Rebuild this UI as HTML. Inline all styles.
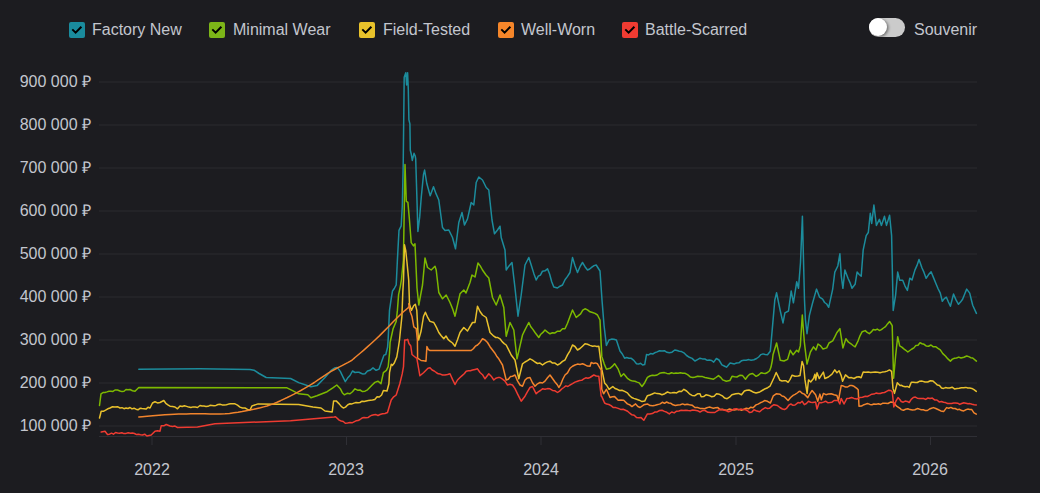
<!DOCTYPE html>
<html><head><meta charset="utf-8">
<style>
html,body{margin:0;padding:0;background:#1c1c20;width:1040px;height:493px;overflow:hidden}
body{font-family:"Liberation Sans",sans-serif;font-size:16px;color:#c3c6ce;position:relative}
.cb{position:absolute;top:22px;width:16px;height:16px;border-radius:2px}
.cb svg{position:absolute;left:0;top:0}
.lt{position:absolute;top:20px;line-height:20px;white-space:nowrap}
.yl{position:absolute;right:949px;line-height:16px;white-space:nowrap;text-align:right}
.xl{position:absolute;top:461px;line-height:18px;width:60px;text-align:center}
</style></head><body>
<!--LEGEND-->
<div class="cb" style="left:69px;background:#1a8b9d"><svg width="16" height="16"><path d="M3.3 7.4 L6.6 10.6 L12.4 4.7" stroke="#000" stroke-width="2" fill="none"/></svg></div>
<div class="lt" style="left:92px">Factory New</div>
<div class="cb" style="left:209px;background:#7cb518"><svg width="16" height="16"><path d="M3.3 7.4 L6.6 10.6 L12.4 4.7" stroke="#000" stroke-width="2" fill="none"/></svg></div>
<div class="lt" style="left:233px">Minimal Wear</div>
<div class="cb" style="left:359px;background:#e8c22b"><svg width="16" height="16"><path d="M3.3 7.4 L6.6 10.6 L12.4 4.7" stroke="#000" stroke-width="2" fill="none"/></svg></div>
<div class="lt" style="left:383px">Field-Tested</div>
<div class="cb" style="left:498px;background:#f5862a"><svg width="16" height="16"><path d="M3.3 7.4 L6.6 10.6 L12.4 4.7" stroke="#000" stroke-width="2" fill="none"/></svg></div>
<div class="lt" style="left:521px">Well-Worn</div>
<div class="cb" style="left:622px;background:#ef3b32"><svg width="16" height="16"><path d="M3.3 7.4 L6.6 10.6 L12.4 4.7" stroke="#000" stroke-width="2" fill="none"/></svg></div>
<div class="lt" style="left:645px">Battle-Scarred</div>
<div style="position:absolute;left:869px;top:17.5px;width:36px;height:19px;border-radius:9.5px;background:#cbcbcb"></div>
<div style="position:absolute;left:869px;top:18.2px;width:18px;height:18px;border-radius:50%;background:#fff;box-shadow:1.5px 1px 3px rgba(0,0,0,0.45)"></div>
<div class="lt" style="left:914px">Souvenir</div>
<!--CHART-->
<svg style="position:absolute;left:0;top:0" width="1040" height="493">
<g stroke="#2a2a2f" stroke-width="1">
<line x1="99" x2="977" y1="82" y2="82"/>
<line x1="99" x2="977" y1="125" y2="125"/>
<line x1="99" x2="977" y1="168" y2="168"/>
<line x1="99" x2="977" y1="211" y2="211"/>
<line x1="99" x2="977" y1="254" y2="254"/>
<line x1="99" x2="977" y1="297" y2="297"/>
<line x1="99" x2="977" y1="340" y2="340"/>
<line x1="99" x2="977" y1="383" y2="383"/>
<line x1="99" x2="977" y1="426" y2="426"/>
</g>
<g stroke="#2f2f35" stroke-width="1">
<line x1="99" x2="977" y1="436.5" y2="436.5"/>
<line x1="152" x2="152" y1="437" y2="445"/>
<line x1="346.5" x2="346.5" y1="437" y2="445"/>
<line x1="541" x2="541" y1="437" y2="445"/>
<line x1="736" x2="736" y1="437" y2="445"/>
<line x1="930.5" x2="930.5" y1="437" y2="445"/>
</g>
<path d="M138.8 369.3 L200.0 368.8 L250.0 369.4 L254.0 370.2 L259.1 373.5 L266.2 377.5 L290.6 378.5 L298.7 382.6 L310.9 386.7 L317.0 385.6 L325.0 377.5 L331.1 370.4 L334.5 368.0 L337.2 367.4 L340.3 371.4 L342.8 376.6 L345.3 381.6 L347.6 378.1 L350.0 375.5 L352.5 371.0 L355.0 372.5 L357.0 372.2 L359.0 372.3 L361.0 373.2 L363.0 374.1 L365.0 373.8 L367.5 371.0 L370.0 370.3 L373.0 367.8 L376.1 370.3 L379.1 369.1 L381.6 361.8 L384.0 355.1 L385.8 354.5 L387.6 347.2 L388.2 338.6 L389.5 310.4 L391.3 298.2 L392.5 291.0 L394.3 288.5 L396.2 284.9 L397.4 260.0 L399.0 230.3 L401.2 225.8 L402.3 205.8 L403.2 165.0 L404.2 77.2 L405.8 72.7 L406.6 85.0 L407.6 72.7 L408.3 89.4 L408.9 119.8 L409.9 123.9 L410.3 150.3 L411.3 154.3 L412.3 160.4 L414.0 153.3 L415.2 156.0 L415.7 158.9 L416.8 194.6 L417.9 231.4 L419.7 216.9 L421.3 196.8 L423.5 174.5 L424.6 170.1 L426.8 183.5 L430.2 195.7 L433.5 186.8 L436.1 193.9 L438.8 200.0 L442.5 227.5 L445.0 230.5 L448.8 230.0 L452.5 237.5 L455.5 248.8 L458.8 222.5 L462.0 212.5 L464.5 225.0 L467.5 218.8 L471.2 202.5 L473.8 205.0 L476.2 182.5 L478.8 177.0 L482.5 180.0 L486.2 187.5 L488.8 190.0 L492.0 220.0 L494.5 233.8 L497.5 230.0 L500.0 226.2 L501.2 237.5 L505.0 250.0 L506.2 270.0 L508.8 266.2 L512.0 262.5 L515.0 288.0 L518.0 316.2 L521.2 295.0 L525.0 265.0 L528.8 257.5 L531.2 265.1 L533.8 273.4 L536.2 280.0 L538.3 276.2 L540.4 275.1 L542.5 271.2 L545.0 270.8 L547.5 268.8 L549.6 274.0 L551.7 281.8 L553.8 287.0 L557.5 288.0 L560.0 286.2 L562.5 285.0 L565.0 279.8 L567.5 276.4 L570.0 272.5 L572.5 257.5 L575.0 265.7 L577.5 272.5 L580.0 266.7 L582.5 262.5 L585.0 266.7 L587.5 270.0 L589.7 269.0 L591.9 267.2 L594.1 265.6 L596.2 265.0 L600.0 271.0 L602.0 300.0 L604.0 325.0 L606.4 345.5 L609.0 340.0 L611.5 339.1 L613.9 339.2 L616.4 340.0 L620.0 351.0 L622.3 354.0 L624.6 358.2 L626.7 357.5 L628.9 358.3 L631.0 358.2 L633.8 360.4 L636.5 363.7 L638.5 364.1 L640.6 363.3 L642.7 365.0 L644.7 364.6 L646.5 354.6 L648.5 354.9 L650.6 353.6 L652.7 354.0 L654.7 352.8 L657.1 351.9 L659.6 350.7 L662.0 351.0 L664.4 350.7 L666.9 352.3 L669.3 352.8 L672.0 352.2 L674.8 350.0 L677.1 350.6 L679.3 351.2 L681.6 351.6 L683.9 352.8 L686.6 355.5 L689.4 357.3 L692.1 358.4 L694.9 361.0 L697.5 359.6 L700.0 358.2 L702.4 358.9 L704.9 359.0 L707.3 360.3 L709.4 360.1 L711.6 360.5 L713.7 362.1 L716.4 358.5 L719.0 360.0 L721.9 364.9 L724.2 366.0 L726.5 367.2 L730.1 363.0 L732.2 363.4 L734.4 363.9 L736.5 363.0 L738.9 362.8 L741.4 360.8 L743.8 360.3 L746.2 360.2 L748.7 359.6 L751.1 360.3 L753.9 359.8 L756.6 358.5 L758.7 357.0 L760.9 354.6 L763.0 353.9 L765.2 354.5 L767.5 354.8 L770.3 351.2 L772.1 331.1 L774.8 300.1 L776.6 292.8 L780.3 311.0 L783.0 322.9 L784.9 312.8 L788.5 311.0 L791.2 290.9 L793.4 302.8 L796.7 281.8 L798.5 288.2 L800.5 262.5 L802.4 216.3 L804.5 300.0 L805.4 319.5 L807.0 333.7 L809.4 315.4 L812.5 303.3 L816.5 289.1 L819.6 297.2 L822.6 299.2 L824.6 302.5 L826.7 304.0 L828.7 307.3 L832.7 289.1 L834.8 272.1 L837.8 266.0 L839.9 253.8 L841.3 276.2 L842.9 288.3 L844.9 270.1 L848.0 278.2 L850.0 282.6 L852.0 288.3 L855.1 284.3 L857.1 272.1 L859.2 274.5 L861.2 276.2 L863.2 249.8 L866.2 235.6 L868.3 232.5 L870.3 213.3 L871.7 223.4 L873.9 205.1 L876.4 225.4 L879.4 219.3 L881.4 225.4 L884.5 216.3 L886.5 225.4 L889.6 215.3 L891.6 235.6 L893.2 310.4 L895.6 295.1 L897.7 272.1 L899.7 280.2 L902.7 280.2 L905.0 286.1 L907.4 290.4 L909.8 278.2 L912.0 280.0 L914.9 270.1 L917.0 265.4 L919.0 259.5 L922.0 268.0 L924.0 272.4 L926.1 278.2 L928.6 274.6 L931.1 271.7 L933.7 278.1 L936.2 284.3 L938.2 289.0 L940.3 293.1 L942.3 301.2 L944.3 298.6 L946.4 297.2 L948.4 302.0 L950.4 306.3 L953.5 294.1 L956.0 299.9 L958.5 304.3 L960.5 302.1 L962.6 299.2 L964.7 294.0 L966.7 289.1 L969.7 293.1 L972.7 305.3 L976.4 313.4" stroke="#1c8c9c" stroke-width="1.5" fill="none" stroke-linejoin="round" stroke-linecap="round"/>
<path d="M99.5 405.5 L101.0 393.8 L103.0 392.6 L105.0 392.5 L107.0 391.9 L109.0 391.2 L111.0 391.2 L113.0 391.4 L115.0 390.0 L117.5 390.0 L120.0 391.0 L122.0 391.6 L124.0 391.2 L126.0 389.5 L128.0 389.8 L130.0 389.5 L132.5 390.7 L135.0 391.2 L138.8 387.5 L286.5 387.7 L292.6 390.7 L298.7 393.8 L307.8 394.8 L310.9 397.8 L316.9 395.8 L327.1 391.7 L333.2 387.7 L336.8 385.0 L340.3 388.7 L342.3 392.7 L344.3 394.8 L347.1 393.3 L350.0 393.8 L352.5 391.7 L355.0 388.8 L357.5 390.2 L360.0 390.0 L362.5 391.6 L365.0 391.2 L367.5 389.8 L370.0 387.3 L372.4 384.8 L374.9 382.4 L377.9 381.2 L381.0 383.7 L383.4 372.7 L386.4 370.3 L388.2 366.6 L389.5 353.2 L390.1 342.3 L391.5 336.0 L393.1 328.7 L396.2 321.4 L397.4 310.4 L398.6 294.6 L400.4 286.1 L401.4 280.0 L403.4 260.0 L405.0 164.5 L406.3 201.3 L407.9 202.4 L409.4 219.2 L411.2 242.6 L413.5 245.9 L415.0 243.8 L417.0 288.0 L418.8 305.0 L422.5 285.0 L425.0 258.0 L427.5 267.5 L431.2 270.0 L435.0 266.2 L436.2 270.0 L438.8 292.5 L442.5 298.8 L446.2 295.0 L450.0 302.5 L452.5 308.6 L455.0 316.2 L460.0 293.8 L463.8 290.0 L466.0 293.0 L468.0 287.8 L470.0 282.5 L472.0 275.0 L475.0 277.0 L478.0 263.0 L480.2 265.9 L482.5 270.0 L486.0 275.0 L488.8 278.0 L492.5 297.5 L496.2 305.0 L500.0 295.0 L503.8 307.5 L506.2 336.2 L510.0 322.5 L513.8 330.0 L517.0 358.8 L522.5 335.0 L524.6 330.6 L526.7 326.5 L528.8 322.5 L530.8 326.8 L532.9 329.4 L535.0 332.5 L538.8 337.5 L540.8 334.2 L542.9 332.4 L545.0 330.0 L547.5 332.1 L550.0 333.8 L552.5 332.7 L555.0 332.9 L557.5 331.2 L560.0 331.2 L562.5 328.8 L565.0 328.8 L567.5 323.2 L570.0 316.4 L572.5 310.0 L576.2 317.5 L578.4 315.7 L580.6 313.9 L582.8 310.1 L585.0 308.8 L587.5 309.9 L590.0 311.8 L592.5 312.5 L595.0 313.4 L597.5 315.0 L600.0 320.0 L601.8 356.4 L604.1 363.6 L606.4 369.2 L610.0 368.3 L612.3 366.4 L614.6 363.7 L618.2 369.2 L621.0 376.5 L623.7 373.8 L627.4 378.3 L630.1 380.2 L632.8 381.1 L634.9 381.2 L637.1 382.1 L639.2 382.9 L642.0 386.5 L644.7 382.7 L647.4 377.4 L649.8 376.0 L652.3 375.3 L654.7 375.6 L657.1 375.0 L659.6 373.3 L662.0 372.8 L664.4 372.6 L666.9 373.4 L669.3 373.8 L671.5 372.8 L673.7 373.4 L675.9 373.1 L678.1 373.2 L680.3 372.8 L682.7 373.3 L685.2 373.3 L687.6 374.7 L690.3 376.9 L693.0 377.4 L695.3 377.0 L697.7 376.2 L700.0 376.5 L702.5 376.6 L705.0 377.5 L707.5 378.0 L710.0 378.5 L713.5 379.2 L716.0 377.5 L718.5 375.6 L720.6 377.3 L722.7 379.9 L726.3 381.3 L729.8 380.6 L732.0 376.3 L734.5 376.8 L736.9 377.0 L739.8 375.3 L742.6 375.6 L745.5 379.2 L747.6 376.3 L749.7 374.2 L752.6 373.5 L756.1 376.3 L758.6 375.0 L761.1 372.8 L763.2 373.3 L765.3 373.5 L767.5 372.5 L769.6 370.7 L771.0 367.1 L772.4 360.0 L773.0 354.8 L776.6 343.0 L780.3 360.3 L784.0 361.0 L787.6 359.4 L790.3 350.3 L793.1 354.8 L796.7 350.3 L798.5 352.0 L800.3 345.9 L802.3 315.0 L804.3 341.8 L807.0 364.1 L810.4 352.0 L813.5 346.9 L816.0 350.0 L818.0 344.0 L820.6 345.9 L823.0 349.0 L826.7 347.9 L829.0 343.0 L832.7 340.8 L834.8 336.9 L836.8 332.7 L839.9 328.6 L842.9 347.9 L845.9 338.8 L848.5 342.2 L851.0 343.8 L853.0 345.5 L855.1 346.9 L858.1 340.8 L860.2 335.3 L862.2 331.7 L865.2 330.6 L867.2 332.4 L869.3 333.7 L871.3 331.9 L873.3 329.6 L875.3 330.0 L877.3 329.1 L879.4 330.5 L881.4 329.6 L883.5 328.0 L885.5 326.6 L887.5 323.9 L889.6 321.5 L892.2 325.6 L893.6 378.3 L895.6 356.0 L897.7 336.7 L899.7 345.9 L901.8 347.1 L903.8 348.9 L905.8 350.3 L907.8 352.0 L909.8 350.5 L911.9 349.0 L913.9 347.9 L915.9 345.4 L918.0 345.3 L920.0 342.8 L922.0 343.7 L924.1 344.3 L926.1 345.9 L928.5 346.2 L931.0 345.0 L933.3 346.8 L935.6 346.7 L938.0 348.4 L940.3 349.9 L942.8 353.6 L945.4 356.0 L947.9 358.9 L950.4 361.1 L952.4 359.1 L954.5 358.2 L956.5 358.0 L958.8 357.1 L961.0 358.0 L963.9 357.2 L966.7 356.0 L968.7 356.6 L970.7 357.7 L972.7 358.0 L976.4 361.1" stroke="#7db900" stroke-width="1.5" fill="none" stroke-linejoin="round" stroke-linecap="round"/>
<path d="M99.5 418.0 L101.2 411.2 L103.4 411.3 L105.6 410.2 L107.8 408.8 L110.0 408.0 L112.5 406.8 L115.0 407.0 L117.5 406.7 L120.0 408.0 L122.0 407.7 L124.0 408.7 L126.0 408.0 L128.0 408.5 L130.0 407.5 L132.0 408.9 L134.0 408.2 L136.0 409.2 L138.0 409.8 L140.0 408.3 L142.0 408.6 L144.0 408.7 L146.0 409.1 L148.0 407.2 L150.0 408.0 L152.5 403.0 L155.0 401.8 L157.5 402.9 L160.0 402.5 L163.8 400.5 L165.8 403.3 L167.9 404.9 L170.0 406.2 L172.5 406.4 L175.0 407.0 L177.5 408.8 L180.0 406.0 L182.2 406.5 L184.4 405.8 L186.6 406.4 L188.8 407.1 L190.9 407.5 L193.1 406.9 L195.3 407.0 L197.5 407.5 L200.0 405.5 L202.0 406.0 L204.0 406.1 L206.0 406.4 L208.0 406.3 L210.0 405.3 L212.0 405.5 L214.0 405.7 L216.0 405.4 L218.0 404.5 L220.0 404.2 L222.1 404.9 L224.3 404.9 L226.4 404.7 L228.6 404.1 L230.7 403.8 L232.9 403.8 L235.0 403.8 L237.5 405.1 L240.0 407.1 L242.5 408.0 L245.0 408.0 L247.5 409.4 L250.0 410.0 L252.0 405.9 L258.1 403.9 L298.7 404.5 L312.9 406.9 L321.0 408.0 L325.0 411.0 L332.2 412.0 L333.6 400.9 L336.2 400.9 L339.2 403.9 L341.2 406.4 L343.3 408.0 L345.5 407.1 L347.8 404.8 L350.0 403.8 L352.0 403.9 L354.0 403.1 L356.0 402.5 L358.0 402.8 L360.0 402.5 L362.1 401.2 L364.2 401.5 L366.2 401.0 L368.3 400.5 L370.4 400.2 L372.5 400.0 L374.8 399.4 L377.1 396.8 L379.3 397.0 L381.6 395.0 L383.4 390.4 L387.0 391.0 L388.9 383.7 L389.5 372.7 L391.3 364.2 L392.5 365.4 L394.3 363.0 L396.8 356.9 L398.6 346.0 L399.5 340.0 L400.2 333.0 L401.9 316.5 L402.8 292.2 L403.5 280.0 L404.5 244.8 L405.7 250.4 L407.0 262.5 L408.7 280.0 L409.5 304.3 L411.4 310.4 L413.8 305.5 L415.3 304.3 L416.8 310.4 L418.1 334.7 L418.6 340.0 L421.1 331.0 L423.5 316.5 L425.4 312.2 L427.8 317.7 L430.0 321.4 L433.8 322.5 L436.2 326.9 L438.8 332.5 L441.2 335.8 L443.8 338.8 L446.0 336.0 L448.0 339.4 L450.0 341.2 L452.5 343.0 L455.0 346.2 L457.5 339.8 L460.0 332.5 L463.8 327.5 L467.5 331.0 L470.0 326.6 L472.5 322.5 L475.0 322.5 L477.5 306.2 L480.0 311.5 L482.5 315.0 L486.2 317.5 L490.0 332.5 L493.8 336.2 L495.8 337.5 L497.9 337.6 L500.0 338.8 L502.1 341.6 L504.2 343.6 L506.2 345.0 L508.8 350.2 L511.2 355.0 L515.0 360.0 L518.8 378.8 L522.5 363.8 L525.0 362.0 L527.5 360.6 L530.0 358.8 L532.5 360.1 L535.0 362.0 L537.5 363.5 L540.0 363.1 L542.5 365.0 L545.0 363.1 L547.5 361.9 L550.0 361.2 L552.5 363.1 L555.0 363.1 L557.5 365.0 L560.0 363.6 L562.5 361.4 L565.0 360.0 L567.5 354.9 L570.0 350.8 L572.5 345.0 L575.0 346.5 L577.5 350.0 L580.0 348.5 L582.5 346.2 L585.0 343.8 L587.5 344.3 L590.0 345.4 L592.5 346.2 L594.6 345.9 L596.7 346.5 L598.8 346.2 L601.8 369.2 L604.6 382.9 L606.9 385.6 L609.1 389.3 L612.8 386.5 L615.0 388.5 L617.3 389.3 L619.6 390.5 L621.9 390.2 L624.6 391.4 L627.4 392.9 L629.5 395.5 L631.7 397.5 L633.8 398.4 L636.5 399.3 L639.2 400.2 L642.0 401.6 L644.7 401.1 L647.4 395.7 L649.8 395.0 L652.3 394.0 L654.7 392.9 L657.1 393.6 L659.6 393.7 L662.0 394.7 L664.8 393.7 L667.5 392.0 L669.8 392.9 L672.0 392.8 L674.3 392.6 L676.6 392.9 L679.0 391.3 L681.5 391.5 L683.9 389.3 L686.6 391.0 L689.4 393.8 L692.1 395.4 L694.9 395.7 L697.5 393.8 L700.0 393.8 L701.2 396.7 L703.6 396.6 L706.0 394.8 L708.9 395.4 L711.7 396.7 L714.1 396.2 L716.5 393.8 L719.4 394.3 L722.3 395.8 L724.7 398.1 L727.1 398.7 L729.5 397.2 L731.9 394.8 L735.8 393.8 L738.6 393.4 L741.5 394.8 L744.4 391.0 L746.7 390.2 L749.0 390.0 L751.3 391.0 L753.7 392.3 L756.0 392.9 L759.8 391.9 L763.0 390.0 L765.3 388.7 L767.7 387.7 L770.0 386.2 L772.1 381.8 L774.2 377.2 L776.2 372.5 L780.0 380.3 L782.0 381.0 L784.0 380.7 L786.1 380.8 L788.1 382.3 L790.1 379.3 L792.1 375.2 L795.0 376.2 L798.0 376.0 L800.0 375.6 L802.1 361.4 L803.6 365.7 L805.0 379.9 L807.1 393.4 L808.5 379.9 L810.7 382.0 L813.5 378.5 L814.9 374.2 L815.7 380.0 L817.0 372.8 L819.2 378.5 L820.6 376.3 L823.4 372.1 L824.9 378.5 L828.4 377.0 L832.0 374.2 L834.8 369.9 L836.9 372.8 L839.1 370.7 L841.2 375.6 L842.6 381.3 L845.5 374.9 L849.0 377.8 L851.5 377.6 L854.0 378.5 L856.8 377.0 L859.0 376.8 L861.1 377.8 L863.2 372.1 L865.7 372.2 L868.2 372.1 L870.6 372.6 L872.9 372.2 L875.3 372.1 L877.7 372.2 L880.0 372.8 L882.4 372.1 L884.8 371.8 L887.1 371.1 L889.5 369.9 L891.6 371.4 L893.0 388.4 L894.5 393.4 L897.3 382.7 L900.0 385.5 L901.2 385.3 L903.2 386.2 L905.2 386.7 L907.2 386.4 L909.2 387.4 L911.3 382.3 L913.3 382.3 L915.3 382.6 L917.3 382.5 L919.3 381.3 L922.1 381.1 L925.0 382.0 L927.7 382.0 L930.4 380.7 L933.0 381.1 L935.5 383.3 L937.5 385.1 L939.5 385.6 L941.5 388.0 L943.5 388.4 L945.5 387.6 L947.6 388.0 L949.6 388.0 L952.1 387.2 L954.5 388.9 L957.0 388.5 L959.2 388.2 L961.4 387.7 L963.6 387.7 L965.8 387.4 L967.8 388.0 L969.8 388.0 L971.8 388.4 L974.0 389.7 L976.3 391.4" stroke="#e8c02c" stroke-width="1.5" fill="none" stroke-linejoin="round" stroke-linecap="round"/>
<path d="M138.8 417.0 L142.2 416.7 L147.1 416.3 L152.8 415.8 L158.9 415.3 L164.8 414.8 L170.0 414.5 L174.5 414.3 L178.6 414.1 L182.6 414.0 L186.5 413.9 L190.6 413.8 L195.0 413.8 L199.8 413.8 L204.8 413.8 L210.0 413.9 L215.2 414.0 L220.2 414.0 L225.0 413.8 L229.5 413.4 L233.9 412.8 L238.1 412.2 L242.2 411.5 L246.2 410.7 L250.0 410.0 L253.7 409.3 L257.1 408.5 L260.4 407.8 L263.7 406.9 L267.0 406.0 L270.3 404.9 L273.7 403.6 L277.1 402.2 L280.5 400.7 L283.8 399.1 L287.2 397.5 L290.6 395.8 L294.0 394.1 L297.4 392.3 L300.8 390.5 L304.1 388.6 L307.5 386.6 L310.9 384.6 L314.3 382.5 L317.7 380.2 L321.1 377.9 L324.5 375.6 L327.8 373.4 L331.1 371.4 L334.5 369.5 L338.0 367.6 L341.5 365.8 L344.8 364.1 L347.7 362.6 L350.0 361.3 L351.5 360.5 L352.1 360.1 L352.4 359.9 L352.7 359.5 L353.5 358.9 L355.0 357.5 L357.4 355.5 L360.4 353.0 L363.8 350.1 L367.4 346.9 L371.2 343.5 L375.0 340.0 L379.1 336.1 L383.6 331.6 L388.2 326.9 L392.7 322.3 L396.7 318.2 L400.0 315.0 L402.4 312.7 L404.3 311.0 L405.7 309.9 L406.7 309.0 L407.6 308.2 L408.3 307.4 L408.8 306.5 L409.0 305.7 L409.0 305.1 L408.9 304.5 L408.7 304.1 L408.7 303.7 L410.1 311.6 L412.0 316.5 L413.8 326.8 L416.2 328.7 L417.4 340.0 L417.6 358.1 L421.1 360.5 L423.6 360.7 L426.0 361.2 L426.9 346.6 L428.4 349.6 L430.0 350.5 L471.2 350.5 L473.3 348.7 L475.4 346.2 L477.5 345.0 L480.0 342.4 L482.5 338.8 L485.0 340.0 L487.5 342.5 L490.0 346.7 L492.5 350.0 L494.6 352.7 L496.7 356.2 L498.8 358.8 L502.5 365.0 L506.2 380.0 L508.3 379.3 L510.4 376.6 L512.5 376.2 L515.0 375.0 L517.5 380.9 L520.0 385.0 L522.5 386.2 L525.0 380.0 L527.5 377.9 L530.0 377.5 L532.5 382.7 L535.0 386.2 L537.5 383.8 L540.0 382.5 L542.5 383.0 L545.0 381.1 L547.5 377.8 L550.0 375.0 L552.5 378.5 L555.0 382.0 L557.5 385.0 L558.8 387.5 L560.8 384.3 L562.9 379.0 L565.0 375.0 L567.5 372.9 L570.0 368.3 L572.5 366.2 L575.0 365.0 L577.5 364.1 L580.0 364.4 L582.5 363.8 L585.0 364.8 L587.5 366.1 L590.0 366.2 L591.2 362.5 L593.3 363.4 L595.4 362.9 L597.5 363.8 L598.8 366.2 L601.2 370.0 L601.8 389.3 L603.6 393.8 L606.4 389.3 L610.0 397.5 L612.3 396.7 L614.6 396.6 L618.2 400.2 L621.0 400.0 L623.7 400.2 L627.4 403.9 L629.6 404.7 L631.9 406.6 L635.6 403.9 L637.9 406.5 L640.1 407.5 L643.8 404.8 L647.4 403.9 L650.1 405.6 L652.9 405.7 L655.3 405.2 L657.8 404.6 L660.2 403.9 L662.3 402.3 L664.5 403.3 L666.6 402.0 L668.7 403.0 L670.9 403.3 L673.0 404.8 L675.4 405.4 L677.9 404.9 L680.3 404.8 L682.6 403.9 L684.8 404.8 L687.1 404.2 L689.4 404.8 L692.1 405.2 L694.9 407.5 L697.5 407.5 L700.0 408.4 L702.3 408.4 L704.6 408.7 L706.9 407.8 L709.1 407.1 L711.2 407.6 L713.4 408.2 L715.6 407.8 L717.9 407.6 L720.2 409.6 L722.5 409.3 L724.8 410.1 L727.1 410.2 L729.5 409.0 L732.0 409.7 L734.4 409.9 L736.8 409.4 L739.1 409.4 L741.5 410.2 L743.9 409.2 L746.3 408.3 L748.6 408.8 L750.8 407.2 L753.1 407.8 L756.0 404.9 L758.1 404.1 L760.3 402.8 L762.5 401.9 L764.6 400.6 L767.5 401.3 L770.4 403.0 L773.3 395.8 L776.2 393.8 L780.0 394.3 L782.0 396.0 L784.0 396.5 L786.1 398.4 L788.1 400.5 L790.6 397.5 L793.1 395.4 L795.1 394.4 L797.2 393.0 L799.2 391.4 L800.0 391.2 L802.1 393.3 L804.3 394.1 L807.8 397.6 L810.0 393.6 L812.1 390.5 L815.6 394.8 L817.8 401.2 L819.9 394.1 L821.3 399.8 L823.4 393.4 L825.9 394.7 L828.4 394.1 L831.2 393.8 L834.1 394.8 L836.9 395.5 L838.4 400.5 L841.2 385.6 L843.4 386.1 L845.5 387.0 L847.6 387.0 L849.7 385.6 L851.9 385.5 L854.0 386.3 L856.8 388.4 L858.2 389.8 L859.0 406.2 L861.5 406.1 L863.9 404.7 L865.9 404.1 L867.9 403.6 L869.9 404.4 L871.9 404.8 L873.9 404.0 L876.2 404.2 L878.4 403.8 L880.7 404.4 L882.9 403.2 L885.2 403.3 L888.0 403.5 L890.9 401.9 L893.8 402.6 L896.6 406.2 L900.0 408.3 L901.2 409.6 L903.4 410.2 L905.6 409.2 L907.8 408.7 L910.0 409.6 L912.4 410.1 L914.9 409.7 L917.3 408.6 L919.3 409.1 L921.3 409.7 L923.4 409.8 L925.4 410.6 L927.4 410.5 L929.5 409.0 L931.5 408.2 L933.5 407.6 L935.8 408.5 L938.0 409.5 L940.8 410.9 L943.6 411.6 L946.6 407.6 L948.7 408.2 L950.9 407.4 L953.0 408.5 L955.2 408.5 L957.4 409.7 L959.5 409.3 L961.7 410.6 L963.7 410.9 L965.7 409.8 L967.8 409.1 L969.8 409.5 L971.8 409.6 L974.0 412.8 L976.3 414.2" stroke="#f2842c" stroke-width="1.5" fill="none" stroke-linejoin="round" stroke-linecap="round"/>
<path d="M101.2 432.0 L105.0 431.2 L107.5 434.5 L109.5 434.2 L111.5 433.2 L113.5 434.2 L115.5 432.5 L117.5 433.0 L119.6 433.2 L121.8 432.7 L123.9 433.6 L126.1 433.4 L128.2 432.8 L130.4 433.2 L132.5 433.0 L134.5 433.5 L136.5 434.6 L138.5 434.3 L140.5 434.8 L142.5 435.0 L144.7 434.2 L146.9 436.0 L149.1 435.5 L151.2 435.0 L155.0 431.2 L157.5 430.8 L160.0 431.2 L161.2 425.8 L163.8 425.8 L166.2 424.5 L170.0 426.0 L172.5 426.5 L175.0 426.1 L177.5 427.5 L197.5 427.0 L215.0 423.8 L290.6 420.7 L334.2 417.1 L335.5 416.8 L339.2 420.1 L341.2 421.0 L343.3 421.5 L345.3 423.2 L347.6 423.0 L350.0 422.5 L352.0 422.8 L354.0 421.8 L356.0 420.8 L358.0 420.6 L360.0 419.5 L362.0 418.1 L364.0 417.6 L366.0 417.8 L368.0 417.6 L370.0 416.2 L372.0 415.2 L374.0 414.8 L376.0 414.6 L378.0 415.5 L380.0 414.5 L382.5 413.8 L385.0 413.5 L387.5 412.5 L391.2 400.0 L393.7 396.8 L396.2 395.0 L399.8 383.7 L402.2 373.9 L403.5 366.6 L404.7 339.9 L406.5 339.9 L407.7 339.3 L408.9 343.5 L410.8 346.0 L412.0 354.5 L415.6 357.5 L416.8 358.1 L419.9 375.8 L423.5 372.7 L426.0 370.3 L428.0 368.3 L430.0 367.8 L432.1 370.0 L434.2 371.0 L436.2 372.5 L438.3 373.8 L440.4 374.1 L442.5 375.0 L445.0 374.9 L447.5 374.4 L450.0 373.8 L452.5 379.4 L455.0 384.5 L457.5 380.0 L460.0 377.5 L462.1 375.6 L464.2 373.8 L466.2 371.2 L468.3 370.8 L470.4 370.7 L472.5 370.0 L475.0 369.4 L477.5 368.8 L480.0 372.5 L482.5 374.7 L485.0 378.8 L488.8 373.8 L491.2 376.2 L493.8 380.0 L495.8 378.3 L497.9 377.6 L500.0 377.5 L502.5 379.2 L505.0 381.2 L507.5 385.0 L510.0 384.3 L512.5 385.0 L515.0 388.7 L517.5 393.8 L521.2 401.2 L525.0 396.2 L527.5 391.6 L530.0 387.5 L532.5 386.5 L536.2 393.8 L538.3 391.8 L540.4 390.5 L542.5 388.8 L545.0 389.3 L547.5 388.6 L550.0 388.8 L552.5 390.4 L555.0 390.8 L557.5 392.5 L559.6 391.1 L561.7 389.0 L563.8 387.5 L565.8 385.9 L567.9 386.5 L570.0 385.0 L572.5 383.6 L575.0 382.1 L577.5 381.2 L579.6 380.5 L581.7 380.3 L583.8 378.8 L585.8 377.8 L587.9 378.3 L590.0 377.5 L593.8 375.0 L596.2 376.0 L598.8 376.2 L601.2 396.2 L601.8 396.6 L604.6 403.0 L606.7 404.1 L608.9 404.5 L611.0 405.7 L613.4 407.6 L615.8 407.6 L618.2 408.4 L620.6 409.4 L623.1 409.2 L625.5 410.3 L627.6 411.3 L629.8 413.2 L631.9 414.8 L634.2 415.2 L636.5 417.6 L638.8 417.8 L641.1 417.6 L643.8 420.3 L647.4 413.9 L649.8 414.1 L652.3 413.6 L654.7 412.1 L657.1 411.9 L659.6 410.5 L662.0 410.3 L664.4 411.4 L666.9 412.3 L669.3 413.9 L671.7 412.0 L674.2 412.9 L676.6 411.2 L678.9 410.9 L681.2 410.3 L683.5 410.6 L685.8 410.3 L688.1 410.6 L690.3 410.7 L692.6 410.1 L694.9 410.3 L697.5 410.7 L700.0 412.0 L702.5 410.6 L705.0 410.5 L707.9 412.3 L710.7 412.6 L712.8 412.6 L714.9 412.5 L717.0 411.0 L719.9 409.4 L722.7 409.7 L725.5 410.4 L728.4 411.8 L731.2 410.7 L734.1 409.0 L736.4 408.7 L738.7 409.9 L741.0 409.0 L743.2 409.6 L745.5 409.7 L747.6 410.7 L749.7 412.6 L751.9 412.0 L754.0 409.7 L756.9 411.1 L759.7 411.8 L762.5 409.3 L765.3 407.6 L767.5 408.6 L769.6 408.3 L771.8 406.1 L773.9 404.7 L777.4 405.5 L779.9 407.5 L782.4 409.0 L784.5 409.5 L786.6 408.3 L788.8 405.2 L790.9 404.0 L793.0 405.3 L795.0 405.0 L798.0 402.6 L800.2 403.0 L802.1 401.2 L804.3 404.7 L806.4 403.5 L808.5 401.2 L810.6 402.2 L812.8 402.6 L815.6 402.0 L817.0 409.0 L819.2 402.6 L821.3 402.7 L823.5 402.1 L825.6 401.2 L827.7 402.7 L829.8 402.6 L832.0 402.2 L834.1 400.5 L838.0 400.5 L839.8 404.0 L841.2 398.4 L844.0 404.0 L846.9 398.4 L849.3 398.3 L851.6 397.5 L854.0 398.4 L856.9 399.0 L859.7 397.6 L862.5 397.2 L865.3 396.2 L867.4 396.5 L869.6 395.4 L871.8 394.2 L873.9 394.1 L876.0 393.1 L878.1 393.6 L880.3 393.5 L882.4 392.7 L884.5 392.5 L886.6 391.4 L888.8 390.2 L890.9 390.5 L892.3 392.0 L893.8 406.9 L895.9 401.2 L898.0 397.6 L900.0 399.8 L901.2 401.5 L903.2 402.2 L905.2 401.1 L907.2 401.4 L909.2 402.5 L911.2 399.4 L913.3 397.5 L915.3 397.1 L917.3 398.2 L919.4 398.5 L921.4 398.5 L923.5 398.5 L925.7 399.4 L927.9 398.0 L930.0 398.5 L932.3 398.1 L934.6 399.9 L936.9 400.0 L939.2 401.9 L941.5 401.5 L943.5 402.3 L945.5 402.6 L947.6 403.5 L949.6 403.5 L951.6 403.5 L953.6 403.0 L955.6 402.9 L957.7 403.2 L959.7 404.4 L961.7 403.5 L963.8 402.8 L965.9 403.2 L968.0 403.7 L970.0 403.6 L972.1 404.3 L974.2 404.8 L976.3 404.9" stroke="#ee3b31" stroke-width="1.5" fill="none" stroke-linejoin="round" stroke-linecap="round"/>
</svg>
<div class="yl" style="top:74px">900 000 ₽</div>
<div class="yl" style="top:117px">800 000 ₽</div>
<div class="yl" style="top:160px">700 000 ₽</div>
<div class="yl" style="top:203px">600 000 ₽</div>
<div class="yl" style="top:246px">500 000 ₽</div>
<div class="yl" style="top:289px">400 000 ₽</div>
<div class="yl" style="top:332px">300 000 ₽</div>
<div class="yl" style="top:375px">200 000 ₽</div>
<div class="yl" style="top:418px">100 000 ₽</div>
<div class="xl" style="left:122px">2022</div>
<div class="xl" style="left:316px">2023</div>
<div class="xl" style="left:511px">2024</div>
<div class="xl" style="left:706px">2025</div>
<div class="xl" style="left:900px">2026</div>
</body></html>
